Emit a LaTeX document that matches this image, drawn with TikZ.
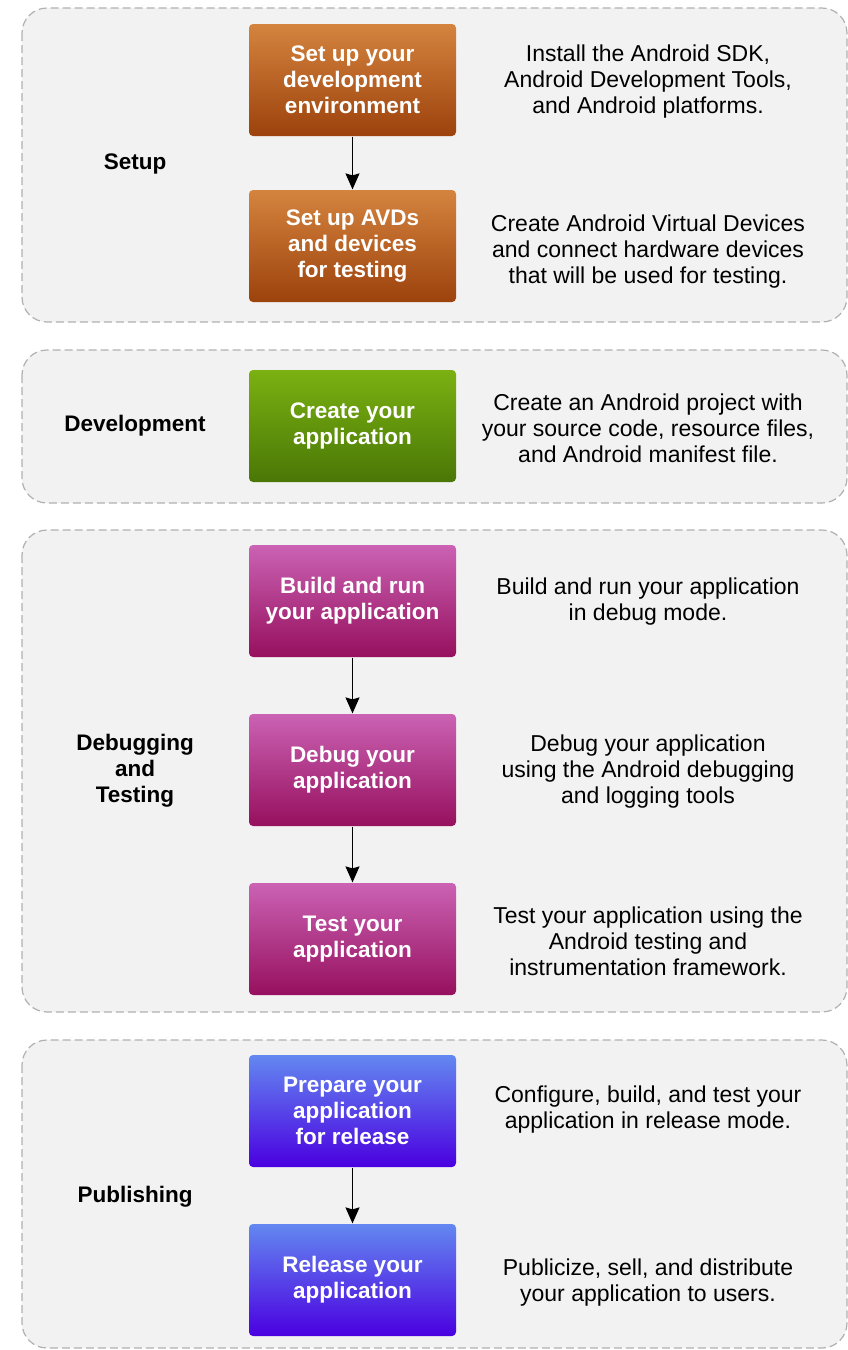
\documentclass[tikz,border=0pt]{standalone}
\usepackage{fontspec}
\setmainfont{Liberation Sans}
\usetikzlibrary{arrows.meta}
\definecolor{orgtop}{HTML}{D5843F}
\definecolor{orgbot}{HTML}{9C420C}
\definecolor{grntop}{HTML}{7BB112}
\definecolor{grnbot}{HTML}{4A7706}
\definecolor{magtop}{HTML}{CB62B4}
\definecolor{magbot}{HTML}{96105E}
\definecolor{bluetop}{HTML}{6388F0}
\definecolor{bluebot}{HTML}{4A00E0}
\definecolor{grpfill}{HTML}{F2F2F2}
\definecolor{grpline}{HTML}{B0B0B0}
\begin{document}
\begin{tikzpicture}[x=1pt, y=-1pt, every node/.style = {align=center, font=\fontsize{23}{26}\selectfont}, line width=1.2pt]
	\tikzstyle{box} = [rounded corners=4pt, minimum width=207pt, minimum height=112pt, text=white, font=\bfseries\fontsize{22.5}{26}\selectfont]
	\tikzstyle{stp} = [box, top color=orgtop, bottom color=orgbot]
	\tikzstyle{dev} = [box, top color=grntop, bottom color=grnbot]
	\tikzstyle{dbg} = [box, top color=magtop, bottom color=magbot]
	\tikzstyle{pub} = [box, top color=bluetop, bottom color=bluebot]
	\tikzstyle{grp} = [draw=grpline, fill=grpfill, dash pattern=on 8pt off 4pt, rounded corners=25pt]
	\tikzstyle{lbl} = [font=\bfseries\fontsize{22.5}{26}\selectfont]
	\tikzstyle{arr} = [-{Stealth[length=16pt, width=14pt, inset=2pt]}, line width=1.6pt]
	\useasboundingbox (0,0) rectangle (848,1350);
	% phase frames
	\draw[grp] (22,8) rectangle (847,322);
	\draw[grp] (22,350) rectangle (847,503);
	\draw[grp] (22,530) rectangle (847,1012);
	\draw[grp] (22,1040) rectangle (847,1348);
	% phase names
	\node[lbl] (setup) at (135,164) {Setup};
	\node[lbl] (devel) at (135,426) {Development};
	\node[lbl] (debug) at (135,771) {Debugging\\and\\Testing};
	\node[lbl] (publ) at (135,1197) {Publishing};
	% steps
	\node[stp] (env) at (352.5,80) {Set up your\\development\\environment};
	\node[stp] (avd) at (352.5,246) {Set up AVDs\\and devices\\for testing};
	\node[dev] (create) at (352.5,426) {Create your\\application};
	\node[dbg] (build) at (352.5,601) {Build and run\\your application};
	\node[dbg] (dbgapp) at (352.5,770) {Debug your\\application};
	\node[dbg] (test) at (352.5,939) {Test your\\application};
	\node[pub] (prep) at (352.5,1111) {Prepare your\\application\\for release};
	\node[pub] (rel) at (352.5,1280) {Release your\\application};
	% descriptions
	\node (envtxt) at (648,82) {Install the Android SDK,\\Android Development Tools,\\and Android platforms.};
	\node (avdtxt) at (648,252) {Create Android Virtual Devices\\and connect hardware devices\\that will be used for testing.};
	\node (createtxt) at (648,428) {Create an Android project with\\your source code, resource files,\\and Android manifest file.};
	\node (buildtxt) at (648,602) {Build and run your application\\in debug mode.};
	\node (dbgtxt) at (648,772) {Debug your application\\using the Android debugging\\and logging tools};
	\node (testtxt) at (648,941) {Test your application using the\\Android testing and\\instrumentation framework.};
	\node (preptxt) at (648,1110) {Configure, build, and test your\\application in release mode.};
	\node (reltxt) at (648,1283) {Publicize, sell, and distribute\\your application to users.};
	% flow
	\draw[arr] (env) -- (avd);
	\draw[arr] (build) -- (dbgapp);
	\draw[arr] (dbgapp) -- (test);
	\draw[arr] (prep) -- (rel);
\end{tikzpicture}
\end{document}
